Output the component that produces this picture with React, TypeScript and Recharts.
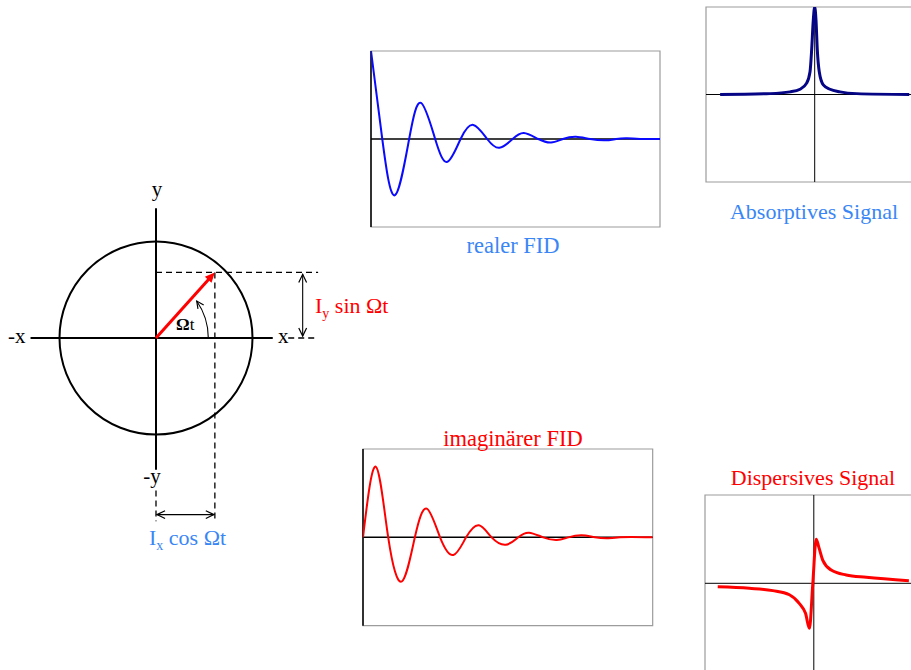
import React from 'react';
import {
  LineChart,
  Line,
  XAxis,
  YAxis,
  ReferenceLine,
  ReferenceArea,
  ReferenceDot,
  ScatterChart,
  Scatter,
} from 'recharts';

// ---- Data -------------------------------------------------------------

// Real FID (Mx): acquisition time in % of the window, normalised amplitude
const realTime = [0, 3.9, 8.2, 13.2, 17.3, 22.2, 26.4, 31.0, 35.4, 40.2, 44.4, 49.0, 52.9, 57.9, 62.3, 66.4, 70.9, 75.8, 81.0, 84.8, 88.6, 93.1, 100];
const realAmp = [1.0, 0, -0.64, 0, 0.41, 0, -0.26, 0, 0.16, 0, -0.1, 0, 0.068, 0, -0.04, 0, 0.025, 0, -0.015, 0, 0.008, 0, 0];

// Imaginary FID (My)
const imagTime = [0, 4.4, 8.7, 13.4, 17.9, 22.0, 26.6, 31.2, 35.6, 40.0, 44.4, 49.3, 53.6, 57.3, 62.2, 66.9, 70.9, 75.5, 80.1, 84.7, 88.7, 92.8, 100];
const imagAmp = [0, 0.8, 0, -0.5, 0, 0.325, 0, -0.2, 0, 0.136, 0, -0.083, 0, 0.053, 0, -0.03, 0, 0.023, 0, -0.01, 0, 0.005, 0];

// Absorptive line shape: frequency offset, intensity
const absFreq = [-87, -41, -22.7, -13.5, -7.4, -4.3, -2.8, -1.3, 0, 1.2, 2.4, 4.2, 7.9, 14.1, 23.3, 38.6, 87];
const absAmp = [0, 0.01, 0.03, 0.06, 0.13, 0.26, 0.51, 0.85, 1.0, 0.85, 0.51, 0.26, 0.11, 0.06, 0.03, 0.01, 0];

// Dispersive line shape
const dispFreq = [-88.3, -59.2, -37.7, -22.4, -13.2, -7.6, -4.0, -1.0, 2.2, 4.6, 8.3, 16, 29.8, 48.2, 87.4];
const dispAmp = [-0.04, -0.057, -0.083, -0.13, -0.23, -0.34, -0.51, -0.02, 0.5, 0.41, 0.26, 0.15, 0.094, 0.068, 0.03];

// Magnetisation vector in the rotating frame (units of the circle radius)
const vectorTip = { x: 0.61, y: 0.68 };

// ---- Styling ------------------------------------------------------------

const SERIF = "'Liberation Serif', 'DejaVu Serif', serif";
const LABEL_BLUE = '#3a86f5';
const RED = '#ff0000';
const FID_BLUE = '#0a0aff';
const NAVY = '#050585';
const BOX_GREY = '#9c9c9c';

// ---- Helpers ------------------------------------------------------------

type ArrowOpts = {
  color: string;
  width: number;
  size: number;
  both?: boolean;
  filled?: boolean;
  dash?: string;
};

const arrowHead = (x: number, y: number, a: number, o: ArrowOpts, key: string) => {
  const spread = o.filled ? 0.42 : 0.45;
  const ax = x - o.size * Math.cos(a - spread);
  const ay = y - o.size * Math.sin(a - spread);
  const bx = x - o.size * Math.cos(a + spread);
  const by = y - o.size * Math.sin(a + spread);
  return o.filled ? (
    <polygon key={key} points={`${ax},${ay} ${x},${y} ${bx},${by}`} fill={o.color} stroke="none" />
  ) : (
    <polyline key={key} points={`${ax},${ay} ${x},${y} ${bx},${by}`} fill="none" stroke={o.color} strokeWidth={1.2} />
  );
};

const arrowShape = (o: ArrowOpts) => (p: any) => {
  const x1 = Number(p.x1), y1 = Number(p.y1), x2 = Number(p.x2), y2 = Number(p.y2);
  const a = Math.atan2(y2 - y1, x2 - x1);
  const trim = o.filled ? o.size * 0.8 : 0;
  return (
    <g>
      <line
        x1={x1}
        y1={y1}
        x2={x2 - trim * Math.cos(a)}
        y2={y2 - trim * Math.sin(a)}
        stroke={o.color}
        strokeWidth={o.width}
        strokeDasharray={o.dash}
      />
      {arrowHead(x2, y2, a, o, 'h2')}
      {o.both ? arrowHead(x1, y1, a + Math.PI, o, 'h1') : null}
    </g>
  );
};

// Curved angle marker between two points, open head at the end
const arcShape = (radius: number) => (p: any) => {
  const x1 = Number(p.x1), y1 = Number(p.y1), x2 = Number(p.x2), y2 = Number(p.y2);
  const mx = (x1 + x2) / 2, my = (y1 + y2) / 2;
  const dx = x2 - x1, dy = y2 - y1;
  const chord = Math.hypot(dx, dy);
  const h = Math.sqrt(Math.max(radius * radius - (chord / 2) * (chord / 2), 0));
  // centre of the arc lies to the left of the chord (screen coordinates)
  const cx = mx + (dy / chord) * h;
  const cy = my - (dx / chord) * h;
  const ang = Math.atan2(y2 - cy, x2 - cx);
  const tangent = ang - Math.PI / 2;
  return (
    <g>
      <path d={`M${x1},${y1} A${radius},${radius} 0 0 0 ${x2},${y2}`} fill="none" stroke="#000" strokeWidth={1.1} />
      {arrowHead(x2, y2, tangent, { color: '#000', width: 1, size: 8 }, 'arc')}
    </g>
  );
};

// ---- Vector diagram -----------------------------------------------------

const DG = { width: 340, height: 380, originX: 156, originY: 158, unit: 96.5 };
const dgX: [number, number] = [-DG.originX / DG.unit, (DG.width - DG.originX) / DG.unit];
const dgY: [number, number] = [-(DG.height - DG.originY) / DG.unit, DG.originY / DG.unit];

const AXIS = { left: -1.3, right: 1.21, top: 1.345, bottom: -1.365 };
const GUIDE = { right: 1.68, bottom: -1.9, tailX: 1.37, tailY: -1.58 };
const DIM = { x: 1.52, y: -1.83 };
const ANGLE_MARK = { start: { x: 0.542, y: 0 }, end: { x: 0.422, y: 0.383 }, radius: 65 };

const plain = (color: string, width: number, dash?: string) => (p: any) => (
  <line x1={p.x1} y1={p.y1} x2={p.x2} y2={p.y2} stroke={color} strokeWidth={width} strokeDasharray={dash} />
);

function VectorDiagram() {
  const dashed = plain('#000', 1.3, '6 4');
  return (
    <ScatterChart width={DG.width} height={DG.height} margin={{ top: 0, right: 0, bottom: 0, left: 0 }}>
      <XAxis type="number" dataKey="x" domain={dgX} hide allowDataOverflow />
      <YAxis type="number" dataKey="y" domain={dgY} hide allowDataOverflow />
      <ReferenceDot x={0} y={0} r={DG.unit} fill="none" stroke="#000" strokeWidth={2} ifOverflow="visible" />
      <ReferenceLine segment={[{ x: AXIS.left, y: 0 }, { x: AXIS.right, y: 0 }]} ifOverflow="visible" shape={plain('#000', 2)} />
      <ReferenceLine segment={[{ x: 0, y: AXIS.bottom }, { x: 0, y: AXIS.top }]} ifOverflow="visible" shape={plain('#000', 2)} />
      {/* projection guides */}
      <ReferenceLine segment={[{ x: 0, y: vectorTip.y }, { x: GUIDE.right, y: vectorTip.y }]} ifOverflow="visible" shape={dashed} />
      <ReferenceLine segment={[{ x: vectorTip.x, y: vectorTip.y }, { x: vectorTip.x, y: GUIDE.bottom }]} ifOverflow="visible" shape={dashed} />
      <ReferenceLine segment={[{ x: GUIDE.tailX, y: 0 }, { x: GUIDE.right, y: 0 }]} ifOverflow="visible" shape={dashed} />
      <ReferenceLine segment={[{ x: 0, y: GUIDE.tailY }, { x: 0, y: GUIDE.bottom }]} ifOverflow="visible" shape={dashed} />
      {/* dimension arrows */}
      <ReferenceLine
        segment={[{ x: DIM.x, y: 0.02 }, { x: DIM.x, y: vectorTip.y - 0.02 }]}
        ifOverflow="visible"
        shape={arrowShape({ color: '#000', width: 1.1, size: 9, both: true })}
      />
      <ReferenceLine
        segment={[{ x: 0.01, y: DIM.y }, { x: vectorTip.x - 0.01, y: DIM.y }]}
        ifOverflow="visible"
        shape={arrowShape({ color: '#000', width: 1.1, size: 9, both: true })}
      />
      {/* angle marker */}
      <ReferenceLine segment={[ANGLE_MARK.start, ANGLE_MARK.end]} ifOverflow="visible" shape={arcShape(ANGLE_MARK.radius)} />
      {/* magnetisation vector */}
      <ReferenceLine
        segment={[{ x: 0, y: 0 }, vectorTip]}
        ifOverflow="visible"
        shape={arrowShape({ color: RED, width: 3, size: 11, filled: true })}
      />
      <Scatter data={[vectorTip]} shape={() => <g />} isAnimationActive={false} />
    </ScatterChart>
  );
}

// ---- FID and spectrum panels -------------------------------------------

type Box = { w: number; h: number };

function FidChart({ time, amp, color, box }: { time: number[]; amp: number[]; color: string; box: Box }) {
  const data = time.map((t, i) => ({ t, v: amp[i] }));
  return (
    <LineChart width={box.w + 4} height={box.h + 4} data={data} margin={{ top: 2, right: 2, bottom: 2, left: 2 }}>
      <XAxis dataKey="t" type="number" domain={[0, 100]} hide allowDataOverflow />
      <YAxis type="number" domain={[-1, 1]} hide allowDataOverflow />
      <ReferenceArea x1={0} x2={100} y1={-1} y2={1} fill="none" stroke={BOX_GREY} strokeWidth={1.2} ifOverflow="visible" />
      <ReferenceLine x={0} stroke="#000" strokeWidth={1.5} ifOverflow="visible" />
      <ReferenceLine y={0} stroke="#000" strokeWidth={1.5} />
      <Line dataKey="v" type="natural" stroke={color} strokeWidth={2} dot={false} isAnimationActive={false} />
    </LineChart>
  );
}

function SpectrumChart({ freq, amp, color, box }: { freq: number[]; amp: number[]; color: string; box: Box }) {
  const data = freq.map((f, i) => ({ f, v: amp[i] }));
  return (
    <LineChart width={box.w + 4} height={box.h + 4} data={data} margin={{ top: 2, right: 2, bottom: 2, left: 2 }}>
      <XAxis dataKey="f" type="number" domain={[-100, 100]} hide allowDataOverflow />
      <YAxis type="number" domain={[-1, 1]} hide allowDataOverflow />
      <ReferenceArea x1={-100} x2={100} y1={-1} y2={1} fill="none" stroke={BOX_GREY} strokeWidth={1.2} ifOverflow="visible" />
      <ReferenceLine x={0} stroke="#000" strokeWidth={1} />
      <ReferenceLine y={0} stroke="#000" strokeWidth={1} />
      <Line dataKey="v" type="monotone" stroke={color} strokeWidth={3} dot={false} isAnimationActive={false} />
    </LineChart>
  );
}

const at = (left: number, top: number): React.CSSProperties => ({ position: 'absolute', left, top });

export default function App() {
  const serif: React.CSSProperties = { fontFamily: SERIF };
  return (
    <div style={{ position: 'absolute', left: 0, top: 0, width: 911, height: 670, overflow: 'hidden', background: '#fff' }}>
      <div style={at(0, 180)}>
        <VectorDiagram />
      </div>
      <div style={at(369, 49)}>
        <FidChart time={realTime} amp={realAmp} color={FID_BLUE} box={{ w: 289, h: 176 }} />
      </div>
      <div style={at(361, 447)}>
        <FidChart time={imagTime} amp={imagAmp} color={RED} box={{ w: 289.7, h: 176.7 }} />
      </div>
      <div style={at(704, 4.7)}>
        <SpectrumChart freq={absFreq} amp={absAmp} color={NAVY} box={{ w: 217.4, h: 175 }} />
      </div>
      <div style={at(703, 493)}>
        <SpectrumChart freq={dispFreq} amp={dispAmp} color={RED} box={{ w: 217.6, h: 176.6 }} />
      </div>

      <svg width={911} height={670} style={{ position: 'absolute', left: 0, top: 0, pointerEvents: 'none', ...serif }}>
        <text style={serif} x={157} y={196} fontSize={21} textAnchor="middle" fill="#000">y</text>
        <text style={serif} x={152} y={483} fontSize={21} textAnchor="middle" fill="#000">-y</text>
        <text style={serif} x={8} y={343} fontSize={21} fill="#000">-x</text>
        <text style={serif} x={278} y={343} fontSize={21} fill="#000">x</text>
        <text style={serif} x={176} y={330} fontSize={17} fill="#000">
          <tspan fontWeight="bold">Ω</tspan>t
        </text>
        <text style={serif} x={315} y={313} fontSize={22} fill={RED}>
          I<tspan fontSize={14} dy={5}>y</tspan>
          <tspan dy={-5}> sin Ωt</tspan>
        </text>
        <text style={serif} x={149} y={545} fontSize={22} fill={LABEL_BLUE}>
          I<tspan fontSize={14} dy={5}>x</tspan>
          <tspan dy={-5}> cos Ωt</tspan>
        </text>
        <text style={serif} x={513} y={253} fontSize={22.5} textAnchor="middle" fill={LABEL_BLUE}>realer FID</text>
        <text style={serif} x={513} y={446} fontSize={22.5} textAnchor="middle" fill={RED}>imaginärer FID</text>
        <text style={serif} x={814} y={219} fontSize={22} textAnchor="middle" fill={LABEL_BLUE}>Absorptives Signal</text>
        <text style={serif} x={813} y={485} fontSize={22} textAnchor="middle" fill={RED}>Dispersives Signal</text>
      </svg>
    </div>
  );
}
